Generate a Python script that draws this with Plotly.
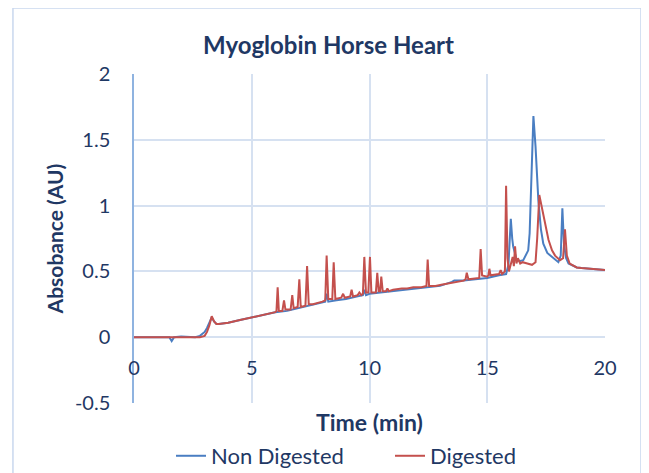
import plotly.graph_objects as go

# Non Digested sample (time in min, absorbance in AU)
non_digested_time = [
    0, 0.5, 1.0, 1.5, 1.6, 1.7, 2.0, 2.3, 2.6, 2.8, 3.0, 3.1, 3.2, 3.3, 3.4,
    3.5, 3.6, 4.0, 4.5, 5.0, 5.5, 6.0, 6.5, 7.0, 7.5, 8.0, 8.12, 8.18, 8.25,
    8.6, 9.0, 9.5, 9.72, 9.78, 9.85, 10.0, 10.5, 11.0, 11.5, 12.0, 12.5, 13.0,
    13.5, 13.6, 13.8, 14.0, 14.5, 15.0, 15.5, 15.8, 15.9, 16.0, 16.06, 16.1,
    16.25, 16.4, 16.53, 16.67, 16.74, 16.8, 16.88, 16.96, 17.05, 17.17, 17.28,
    17.38, 17.55, 17.74, 18.02, 18.12, 18.19, 18.26, 18.35, 18.45, 18.8, 19.0,
    19.36, 19.7, 20.0,
]
non_digested_abs = [
    0, 0, 0.005, 0.0, -0.03, 0.0, 0.005, 0.0, 0.0, 0.01, 0.04, 0.07, 0.11,
    0.15, 0.12, 0.10, 0.10, 0.11, 0.13, 0.15, 0.17, 0.19, 0.20, 0.22, 0.24,
    0.26, 0.27, 0.33, 0.27, 0.28, 0.29, 0.31, 0.32, 0.36, 0.32, 0.33, 0.34,
    0.35, 0.36, 0.37, 0.38, 0.39, 0.42, 0.43, 0.43, 0.43, 0.44, 0.45, 0.47,
    0.48, 0.55, 0.90, 0.75, 0.69, 0.585, 0.58, 0.585, 0.64, 0.66, 0.79, 1.30,
    1.68, 1.45, 1.04, 0.82, 0.71, 0.64, 0.61, 0.57, 0.62, 0.98, 0.70, 0.60,
    0.56, 0.53, 0.525, 0.52, 0.515, 0.51,
]

# Digested sample
digested_time = [
    0, 0.5, 1.0, 1.5, 2.0, 2.5, 2.8, 3.0, 3.1, 3.2, 3.3, 3.4, 3.5, 3.6, 4.0,
    4.5, 5.0, 5.5, 6.0, 6.05, 6.1, 6.15, 6.3, 6.37, 6.43, 6.65, 6.72, 6.78,
    6.95, 7.02, 7.08, 7.28, 7.35, 7.42, 7.6, 8.0, 8.12, 8.18, 8.25, 8.42, 8.48,
    8.55, 8.8, 8.88, 8.95, 9.18, 9.24, 9.3, 9.5, 9.57, 9.65, 9.72, 9.78, 9.85,
    9.95, 10.02, 10.08, 10.27, 10.33, 10.39, 10.45, 10.5, 10.56, 10.7, 10.76,
    10.82, 11.0, 11.37, 11.6, 11.86, 12.2, 12.42, 12.47, 12.53, 12.8, 13.1,
    13.4, 13.7, 14.0, 14.08, 14.13, 14.2, 14.5, 14.66, 14.72, 14.78, 15.0,
    15.05, 15.09, 15.14, 15.5, 15.57, 15.63, 15.75, 15.8, 15.86, 15.92, 16.0,
    16.08, 16.13, 16.18, 16.24, 16.3, 16.4, 16.5, 16.7, 16.9, 17.05, 17.12,
    17.21, 17.3, 17.38, 17.5, 17.6, 17.75, 17.88, 18.09, 18.22, 18.3, 18.38,
    18.5, 18.8, 19.0, 19.36, 19.7, 20.0,
]
digested_abs = [
    0, 0, 0, 0, 0, 0, 0, 0.01, 0.04, 0.09, 0.16, 0.12, 0.10, 0.10, 0.11, 0.13,
    0.15, 0.17, 0.19, 0.20, 0.38, 0.20, 0.20, 0.28, 0.21, 0.21, 0.32, 0.22,
    0.23, 0.44, 0.23, 0.24, 0.54, 0.25, 0.25, 0.27, 0.28, 0.62, 0.29, 0.29,
    0.57, 0.29, 0.30, 0.33, 0.30, 0.31, 0.36, 0.31, 0.32, 0.34, 0.32, 0.33,
    0.61, 0.34, 0.34, 0.61, 0.34, 0.34, 0.49, 0.35, 0.35, 0.46, 0.35, 0.35,
    0.37, 0.35, 0.36, 0.37, 0.37, 0.38, 0.38, 0.39, 0.59, 0.39, 0.39, 0.40,
    0.41, 0.42, 0.43, 0.44, 0.49, 0.44, 0.45, 0.45, 0.67, 0.47, 0.46, 0.47,
    0.52, 0.47, 0.48, 0.51, 0.48, 0.50, 1.15, 0.60, 0.50, 0.55, 0.61, 0.54,
    0.69, 0.56, 0.60, 0.56, 0.57, 0.56, 0.55, 0.57, 0.75, 1.08, 1.00, 0.94,
    0.82, 0.74, 0.66, 0.62, 0.585, 0.60, 0.82, 0.62, 0.56, 0.53, 0.525, 0.52,
    0.515, 0.51,
]

y_ticks = [-0.5, 0, 0.5, 1, 1.5, 2]
y_tick_text = ["-0.5", "0", "0.5", "1", "1.5", "2"]
x_ticks = [0, 5, 10, 15, 20]

font = "Lato, Open Sans, sans-serif"
text_col = "#1F3864"
grid_col = "#D6E1F1"

fig = go.Figure()
fig.add_trace(go.Scatter(x=non_digested_time, y=non_digested_abs, mode="lines",
                         name="Non Digested", line=dict(color="#4A7EC2", width=2)))
fig.add_trace(go.Scatter(x=digested_time, y=digested_abs, mode="lines",
                         name="Digested", line=dict(color="#C4504D", width=2)))

# page body has an 8px margin, so the figure is a bit smaller than the window
fig.update_layout(
    width=641, height=465,
    margin=dict(l=126, r=44, t=66, b=70, autoexpand=False),
    paper_bgcolor="white", plot_bgcolor="white",
    font=dict(family=font, color=text_col, size=20),
    title=dict(text="<b>Myoglobin Horse Heart</b>", x=0.5, xref="container",
               xanchor="center", y=0.92, yanchor="middle",
               font=dict(size=24, color=text_col)),
    xaxis=dict(range=[0, 20], tickvals=x_ticks, showgrid=True, gridcolor=grid_col,
               gridwidth=1.5, zeroline=False, showline=False,
               anchor="free", position=0.2,
               ticks="outside", ticklen=13, tickcolor="rgba(0,0,0,0)",
               tickfont=dict(size=20)),
    yaxis=dict(range=[-0.5, 2], tickvals=y_ticks, ticktext=y_tick_text,
               showgrid=True, gridcolor=grid_col, gridwidth=1.5, zeroline=False,
               showline=True, linecolor="#8FB3E0", linewidth=1.5,
               ticks="outside", ticklen=18, tickcolor="rgba(0,0,0,0)",
               tickfont=dict(size=20),
               title=dict(text="<b>Absobance (AU)</b>", standoff=6,
                          font=dict(size=21))),
    legend=dict(orientation="h", x=0.0786, xanchor="left", y=-0.161,
                yanchor="middle", font=dict(size=22), entrywidth=174,
                bgcolor="rgba(0,0,0,0)"),
    showlegend=True,
)

fig.add_annotation(text="<b>Time (min)</b>", xref="paper", yref="paper",
                   x=0.5, y=-0.058, xanchor="center", yanchor="middle",
                   showarrow=False, font=dict(size=23, color=text_col))

# outer chart border
fig.add_shape(type="rect", xref="paper", yref="paper", x0=-0.257, x1=1.0764,
              y0=-0.25, y1=1.2006, line=dict(color="#C9D8EE", width=1.5),
              layer="below")

fig.write_html("out.html")
